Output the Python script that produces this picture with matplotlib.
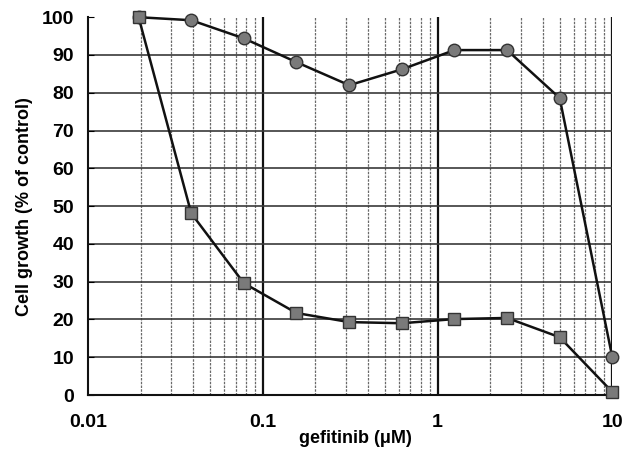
import matplotlib
matplotlib.use("Agg")
import matplotlib.pyplot as plt
import numpy as np

conc = [0.0195, 0.039, 0.078, 0.156, 0.3125, 0.625, 1.25, 2.5, 5, 10]
circles = [100, 99.2, 94.4, 88.1, 82.0, 86.2, 91.3, 91.3, 78.6, 10.0]
squares = [100, 48.1, 29.6, 21.7, 19.3, 19.0, 20.1, 20.4, 15.3, 0.8]
xticks = [0.01, 0.1, 1, 10]
xticklabels = ["0.01", "0.1", "1", "10"]
yticks = [0, 10, 20, 30, 40, 50, 60, 70, 80, 90, 100]

plt.rcParams['font.family'] = ['Liberation Sans', 'DejaVu Sans']
plt.rcParams['font.weight'] = 'bold'

fig = plt.figure(figsize=(6.28, 4.53), dpi=100)
ax = fig.add_axes([0.140, 0.128, 0.835, 0.834])
ax.set_xscale('log')
ax.set_xlim(0.01, 10)
ax.set_ylim(0, 100)

# grid
ax.set_xticks(xticks)
ax.set_xticklabels(xticklabels)
ax.set_yticks(yticks)
ax.xaxis.set_minor_locator(matplotlib.ticker.LogLocator(base=10, subs=np.arange(2, 10)))
ax.xaxis.set_minor_formatter(matplotlib.ticker.NullFormatter())
ax.grid(True, which='minor', axis='x', color='#6a6a6a', lw=0.9, ls=(0, (2, 1)))
ax.grid(True, which='major', axis='x', color='#111111', lw=1.6)
ax.grid(True, which='major', axis='y', color='#3a3a3a', lw=1.2)
for gl in ax.yaxis.get_gridlines()[-1:]:
    gl.set_visible(False)
for gl in ax.xaxis.get_gridlines()[:1]:
    gl.set_visible(False)

ax.plot(conc, circles, color='#111111', lw=1.8, marker='o', ms=9,
        mfc='#7a7a7a', mec='#333333', mew=1.0, clip_on=False, zorder=5)
ax.plot(conc, squares, color='#111111', lw=1.8, marker='s', ms=8,
        mfc='#7a7a7a', mec='#333333', mew=1.0, clip_on=False, zorder=6)

for s in ['top', 'right']:
    ax.spines[s].set_visible(False)
for s in ['left', 'bottom']:
    ax.spines[s].set_color('#111111')
    ax.spines[s].set_linewidth(1.5)

ax.tick_params(axis='x', which='both', length=0, pad=14, labelsize=14)
ax.tick_params(axis='y', which='both', length=4, direction='in', pad=10, labelsize=14)

ax.set_xlabel('gefitinib (μM)', fontsize=13, fontweight='bold', labelpad=0)
ax.xaxis.set_label_coords(0.51, -0.092)
ax.set_ylabel('Cell growth (% of control)', fontsize=13, fontweight='bold', labelpad=6)

fig.savefig('out.png', dpi=100)
